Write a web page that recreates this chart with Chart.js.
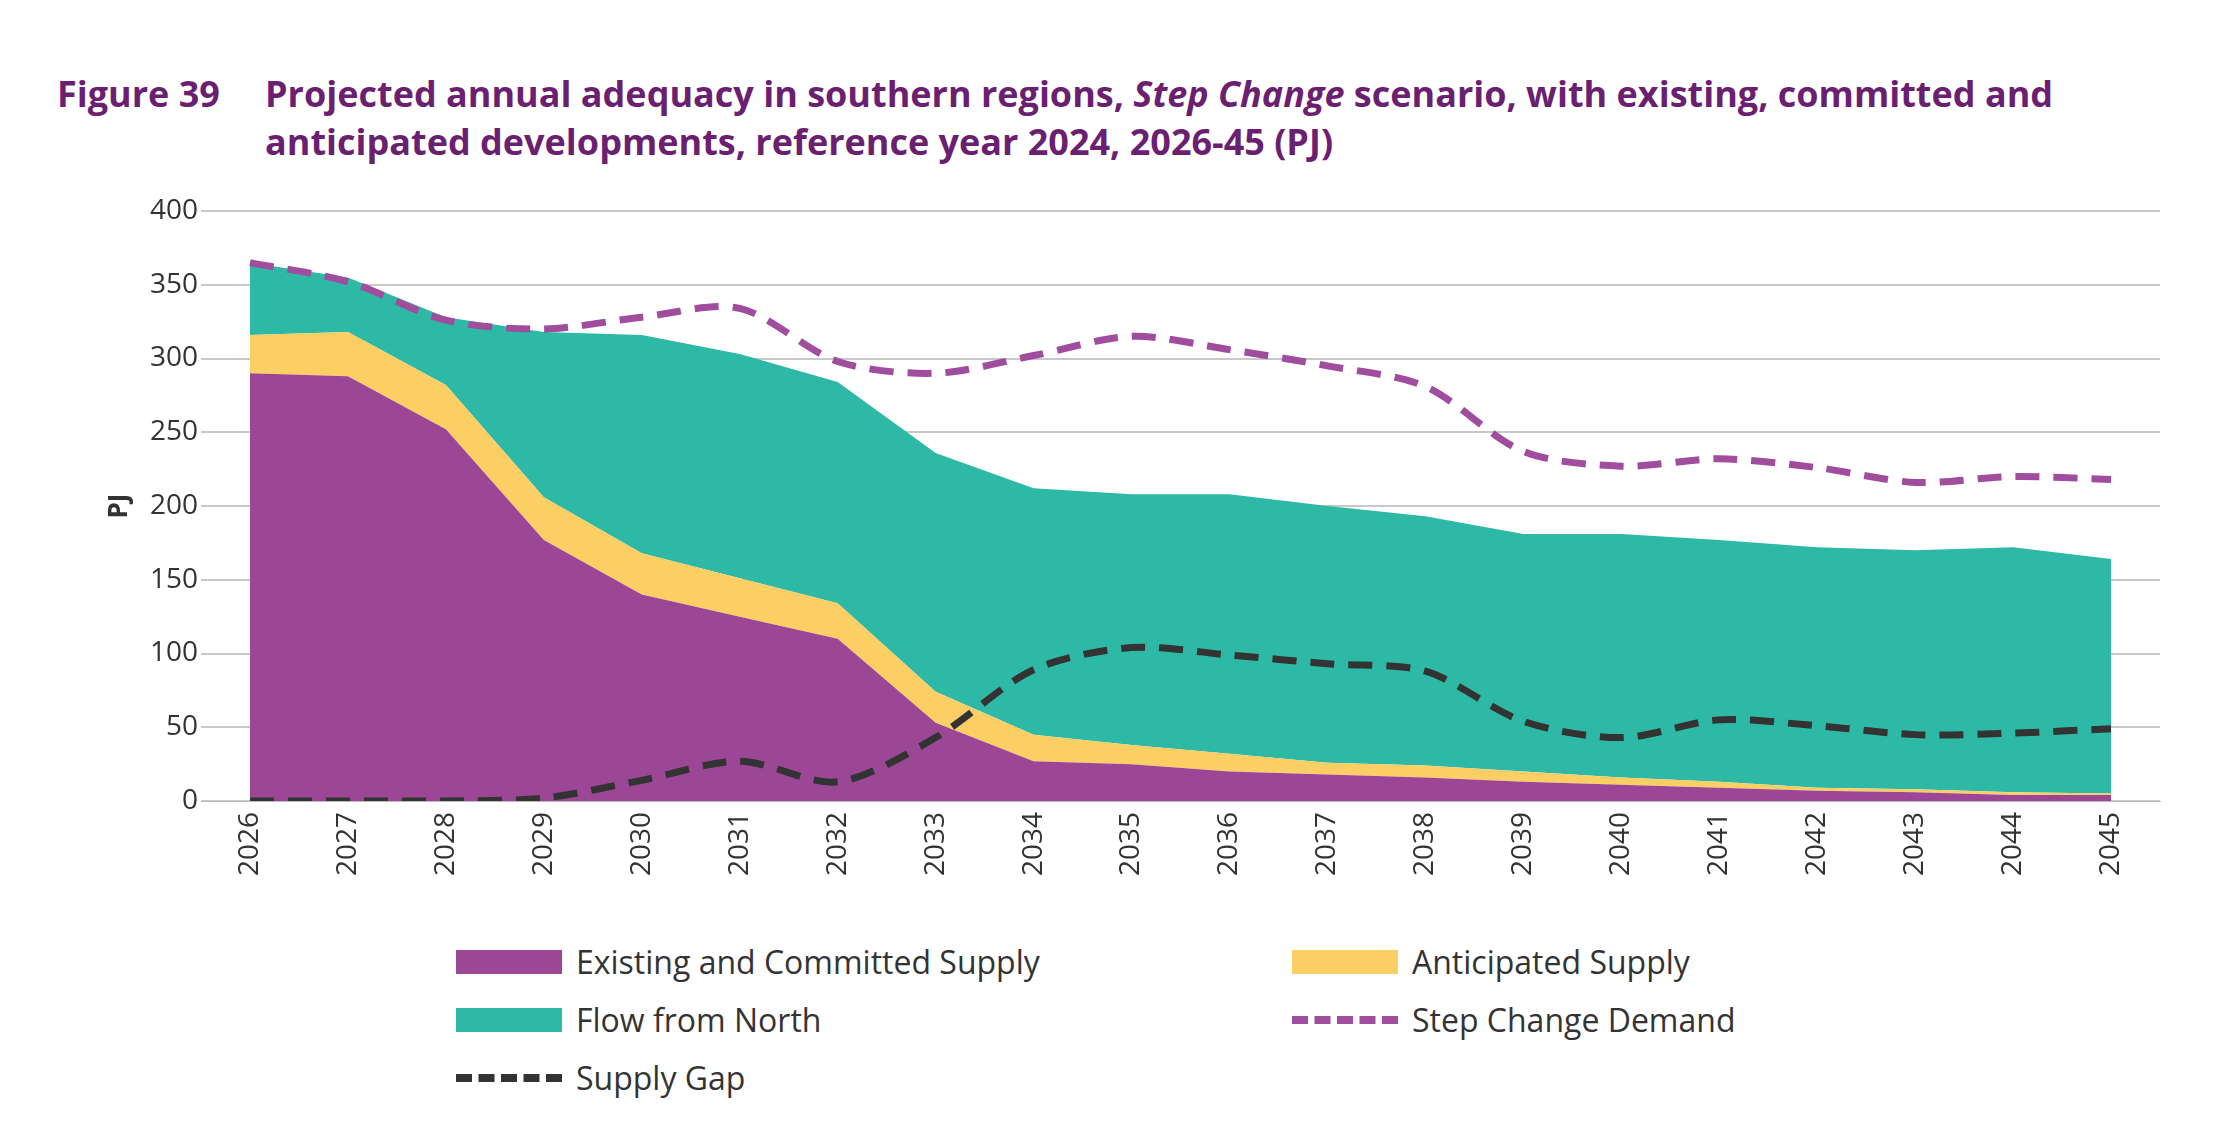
<!DOCTYPE html>
<html><head><meta charset="utf-8">
<script src="https://cdn.jsdelivr.net/npm/chart.js@4"></script>
<style>
body{margin:0;width:2227px;height:1130px;background:#fff;font-family:"Open Sans",sans-serif;position:relative;overflow:hidden}
#title{position:absolute;left:57px;top:70px;color:#6b1f70;font-weight:bold;font-size:36px;line-height:48px}
#title .n{position:absolute;left:0;top:0;width:200px}
#title .t{margin-left:208px;width:1950px}
#wrap{position:absolute;left:100px;top:190px;width:2110px;height:711px}
.leg{position:absolute;font-size:32px;color:#333;display:flex;align-items:center}
.sw{width:106px;height:24px;margin-right:14px}
.dash{width:106px;height:0;border-top:8px dashed;margin-right:14px}
</style></head><body>
<div id="title"><div class="n">Figure 39</div><div class="t">Projected annual adequacy in southern regions, <i>Step Change</i> scenario, with existing, committed and anticipated developments, reference year 2024, 2026-45 (PJ)</div></div>
<div id="wrap"><canvas id="c"></canvas></div>
<div class="leg" style="left:456px;top:940px"><div class="sw" style="background:#9c4796"></div>Existing and Committed Supply</div>
<div class="leg" style="left:1292px;top:940px"><div class="sw" style="background:#fccf65"></div>Anticipated Supply</div>
<div class="leg" style="left:456px;top:998px"><div class="sw" style="background:#2eb9a6"></div>Flow from North</div>
<div class="leg" style="left:1292px;top:998px"><div class="dash" style="border-color:#a04d9e"></div>Step Change Demand</div>
<div class="leg" style="left:456px;top:1056px"><div class="dash" style="border-color:#333"></div>Supply Gap</div>
<script>
const years=["2026","2027","2028","2029","2030","2031","2032","2033","2034","2035","2036","2037","2038","2039","2040","2041","2042","2043","2044","2045"];
const existing=[290,288,252,177,140,125,110,53,27,25,20,18,16,13,11,9,7,6,4,4];
const anticipated=[26,30,30,29,28,26,24,21,18,13,12,8,8,7,5,4,2,2,2,1];
const flowNorth=[49,37,46,112,148,152,150,162,167,170,176,174,169,161,165,164,163,162,166,159];
const demand=[365,352,326,320,328,334,298,290,302,315,306,295,281,237,227,232,226,216,220,218];
const gap=[0,0,0,2,14,27,13,43,89,104,99,93,88,54,43,55,51,45,46,49];
const area=(l,d,c,f)=>({label:l,data:d,backgroundColor:c,borderWidth:0,fill:f,stack:'s',pointRadius:0,order:2});
const line=(l,d,c,s)=>({label:l,data:d,borderColor:c,borderWidth:7,borderDash:[24,14],fill:false,stack:s,pointRadius:0,tension:0.3,order:1});
new Chart(document.getElementById('c'),{type:'line',
data:{labels:years,datasets:[
area('Existing and Committed Supply',existing,'#9c4796','origin'),
area('Anticipated Supply',anticipated,'#fccf65','-1'),
area('Flow from North',flowNorth,'#2eb9a6','-1'),
line('Step Change Demand',demand,'#a04d9e','d'),
line('Supply Gap',gap,'#333333','g')]},
options:{responsive:true,maintainAspectRatio:false,animation:false,
layout:{padding:{top:21,right:50,left:0,bottom:0}},
plugins:{legend:{display:false},tooltip:{enabled:false}},
scales:{
x:{stacked:true,offset:true,grid:{display:false,drawTicks:true},border:{color:'#bbb'},
ticks:{color:'#333',font:{size:28,family:'Open Sans'},maxRotation:90,minRotation:90},
afterFit:a=>{a.height=100}},
y:{stacked:true,min:0,max:400,ticks:{stepSize:50,color:'#333',font:{size:28,family:'Open Sans'}},
grid:{color:'#c8c8c8',lineWidth:2,drawTicks:false},border:{display:false},
title:{display:true,text:'PJ',color:'#333',font:{size:26,weight:'bold',family:'Open Sans'}},
afterFit:a=>{a.width=101}}}}});
</script></body></html>
